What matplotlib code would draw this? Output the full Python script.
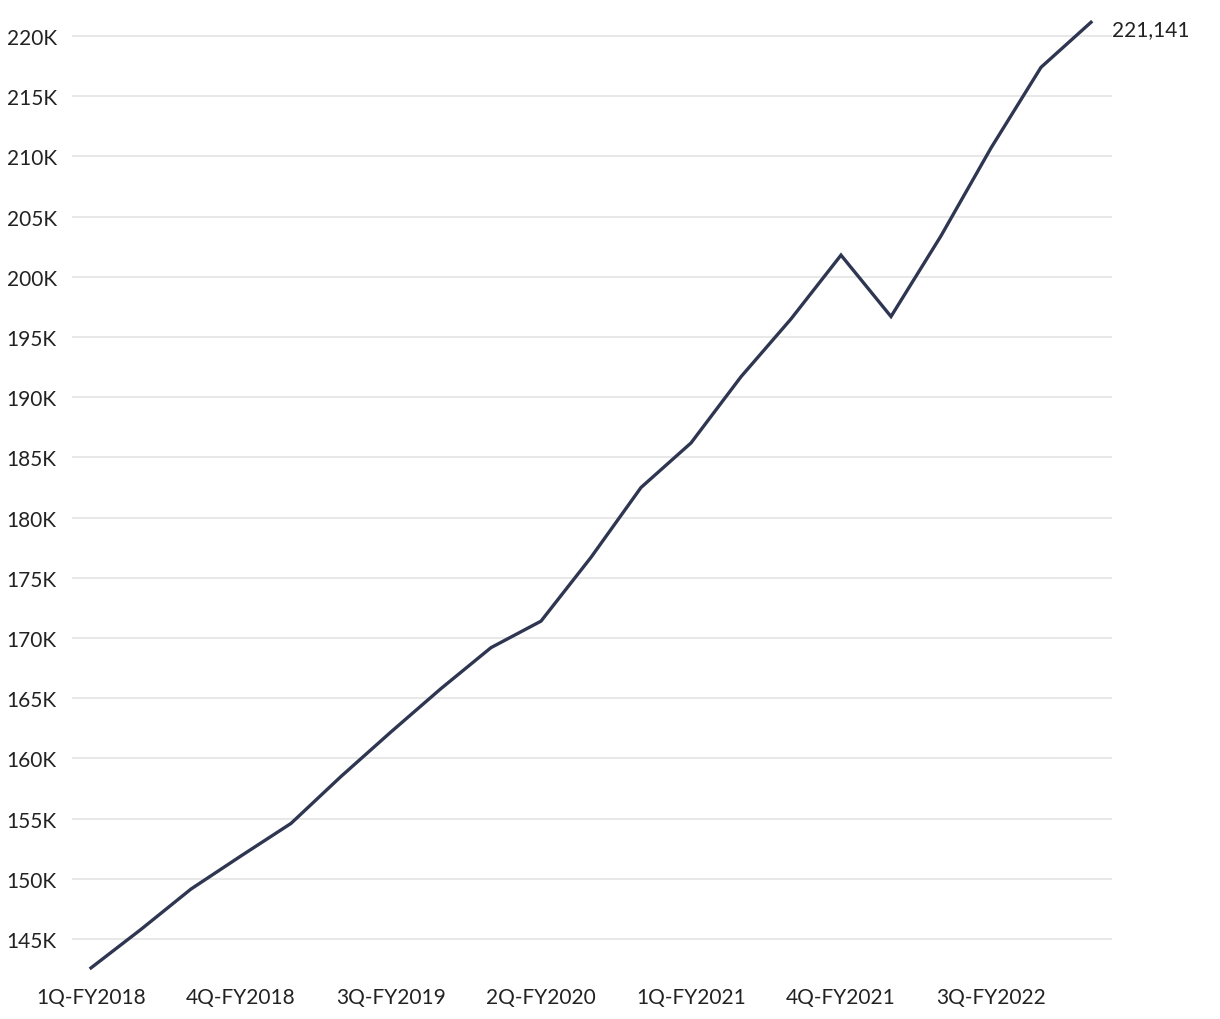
import matplotlib.pyplot as plt
from matplotlib.ticker import FuncFormatter

plt.rcParams['font.family'] = ['Lato', 'DejaVu Sans']

QUARTERS = ["1Q-FY2018", "2Q-FY2018", "3Q-FY2018", "4Q-FY2018",
            "1Q-FY2019", "2Q-FY2019", "3Q-FY2019", "4Q-FY2019",
            "1Q-FY2020", "2Q-FY2020", "3Q-FY2020", "4Q-FY2020",
            "1Q-FY2021", "2Q-FY2021", "3Q-FY2021", "4Q-FY2021",
            "1Q-FY2022", "2Q-FY2022", "3Q-FY2022", "4Q-FY2022",
            "1Q-FY2023"]
VALUES = [142600, 145800, 149150, 151900, 154600, 158500, 162200, 165800,
          169200, 171400, 176700, 182500, 186200, 191700, 196500, 201800,
          196700, 203400, 210700, 217400, 221141]
Y_TICKS = [145000, 150000, 155000, 160000, 165000, 170000, 175000, 180000,
           185000, 190000, 195000, 200000, 205000, 210000, 215000, 220000]

W, H = 1220, 1020
fig = plt.figure(figsize=(W / 100, H / 100), dpi=100)
left, right, top, bottom = 72, 1112, 11, 976
ax = fig.add_axes([left / W, 1 - bottom / H, (right - left) / W, (bottom - top) / H])

x = list(range(len(QUARTERS)))
ax.plot(x, VALUES, color="#2f3651", linewidth=2.4, solid_joinstyle="miter", zorder=3)

ax.set_xlim(-0.38, 20.42)
ax.set_ylim(142010, 222160)
ax.set_yticks(Y_TICKS)
ax.yaxis.set_major_formatter(FuncFormatter(lambda v, p: f"{int(v / 1000)}K"))
ax.set_xticks(x[::3])
ax.set_xticklabels(QUARTERS[::3])

ax.grid(axis="y", color="#e6e6e6", linewidth=1.3)
ax.set_axisbelow(True)
for s in ax.spines.values():
    s.set_visible(False)
ax.tick_params(axis="both", length=0, labelsize=15, colors="#222222")
ax.tick_params(axis="y", pad=11)
ax.tick_params(axis="x", pad=9)

ax.annotate(f"{VALUES[-1]:,}", xy=(x[-1], VALUES[-1]), xytext=(15, -5),
            textcoords="offset points", va="center", ha="left",
            fontsize=15, color="#222222", annotation_clip=False)

fig.savefig("out.png", dpi=100)
